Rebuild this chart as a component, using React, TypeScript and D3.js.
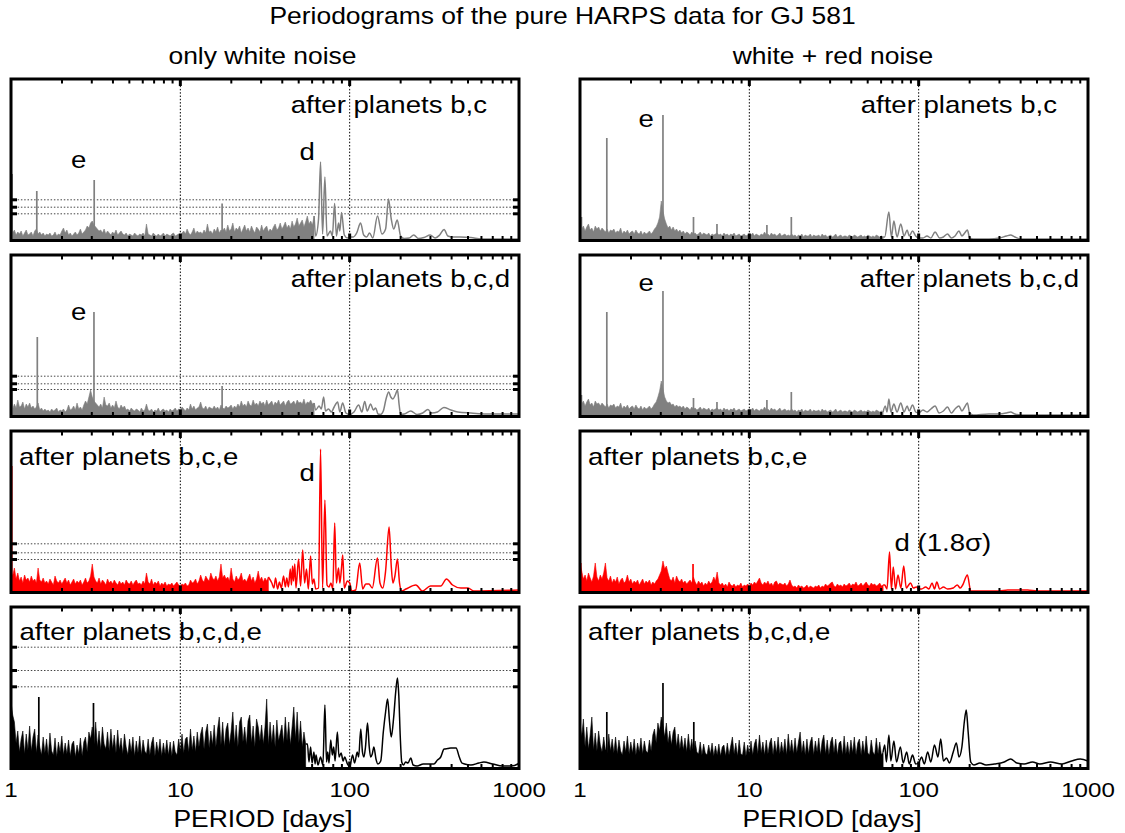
import React from "react";
import * as d3 from "d3";

type Pt = [number, number];

const GRAY = "#808080";
const RED = "#ff0000";
const BLACK = "#000000";
const FONT = "'Liberation Sans', Arial, Helvetica, sans-serif";
const SX = 1.15;

// dense part of every periodogram: one value per 0.01 in log10(period), starting at P = 1 d
const NOISE_STEP = 0.01;

const periodTickValues = [1, 10, 100, 1000];
const periodTickLabels = ["1", "10", "100", "1000"];

// ---------- only white noise ----------
const noiseL1 = [1.2, .6, .9, .4, .7, .5, .8, .3, .6, .9, .4, .5, .7, .3, .8, 1.0, .5, .7, .4, .6,
  .3, .5, .4, .6, .3, .4, .7, .3, .5, .4, .8, 1.1, .6, .9, .4, .6, .3, .5, .7, .4,
  .6, 1.0, .5, .7, .9, 1.3, 1.1, 1.6, 1.8, 1.4, 1.2, 1.0, .8, .9, .6, 1.0, .5, .8, .6, .4,
  .7, .5, .9, .4, .6, .8, .5, .4, .6, .3, .5, .4, .3, .6, .4, .3, .5, .4, .6, .3,
  1.5, .5, .4, .3, .6, .4, .3, .5, .3, .4, .6, .3, .5, .4, .3, .5, .6, .3, .4, .5,
  .3, .6, .8, .5, 1.0, .6, .4, .7, 1.1, .5, .8, .6, .7, .5, .9, .6, 1.5, .7, .8, .5,
  1.0, .7, 1.2, .6, .9, .8, 1.1, .7, 1.4, .8, 1.0, 1.6, .7, 1.1, .9, 1.3, .6, 1.0, 1.4, .8,
  1.1, .7, 1.3, .9, .6, 1.2, 1.0, .7, 1.4, .8, 1.1, 1.3, .7, 1.0, .8, 1.2, 1.5, .9, 1.1, 1.6,
  1.0, 1.3, 1.7, 1.1, 1.4, 1.0, 1.8, 1.2, 1.5, 2.1, 1.3, 1.6, 1.9, 1.2, 1.7, 2.3, 1.5, 1.8, 1.4, 2.3];
const spikesL1: Pt[] = [[1.015, 6.5], [1.42, 4.8], [3.1, 5.9], [17.65, 3.55]];
const tailL1: Pt[] = [[63, 0.3], [65.5, 2.0], [67.3, 7.7], [69.2, 0.5], [71.4, 6.2], [73.5, 0.3], [77, 0.8], [79, 0.3],
  [81.5, 3.55], [83.5, 0.3], [86, 1.6], [87.5, 0.8], [89.5, 2.65], [93, 0.4], [97, 0.1], [100, 0.2], [105, 0.2],
  [110, 0.6], [116, 1.6], [121, 0.4], [126, 0.2], [131, 0.6], [137, 0.1], [146, 2.3], [155, 0.5], [163, 1.0],
  [169.5, 4.0], [176, 2.0], [182, 1.0], [191, 1.9], [200, 0.3], [210, 0.05], [225, 0.1], [239, 0.4], [255, 0.05],
  [275, 0.15], [299, 0.4], [320, 0.1], [340, 0.4], [361, 0.95], [380, 0.3], [405, 0.2], [450, 0.2], [520, 0.15],
  [600, 0], [1000, 0]];
const sigL1 = [3.92, 3.18, 2.52];

const noiseL2 = [1.0, .6, 1.1, .7, 1.5, .8, .9, 1.3, .6, 1.1, .8, 1.2, .7, .9, .6, .8, 1.2, .5, .7, .4,
  .6, .4, .5, .3, .6, .4, .5, .7, .3, .5, .4, .6, .3, .5, 1.0, .5, .6, .9, .5, 1.2,
  .6, .8, .5, 1.0, 1.4, 1.1, 1.8, 2.5, 1.8, 1.4, 1.2, 1.0, .8, 1.1, .7, 1.8, 1.0, .9, 1.2, .7,
  1.0, .7, 1.4, .8, .6, 1.0, .7, .9, .5, .6, .4, .7, .5, .4, .6, .5, .3, .7, .4, .5,
  1.1, .5, .4, .6, .3, .5, .4, .7, .3, .5, .6, .4, .5, .3, .6, .4, .5, .7, .4, .6,
  .5, .8, .6, .4, .7, .5, 1.1, .6, .9, .5, .7, .8, 1.3, .7, .6, .9, .5, .8, .7, .6,
  .9, .6, .8, .5, 1.0, .7, .6, .9, .7, .8, 1.0, .6, .9, .7, 1.1, .8, 1.4, .9, 1.1, .8,
  1.4, 1.0, .9, 1.5, 1.0, 1.2, .9, 1.4, 1.1, 1.3, .9, 1.5, 1.0, 1.2, 1.4, .9, 1.3, 1.1, 1.5, 1.0,
  1.2, 1.4, .9, 1.3, 1.5, 1.1, 1.2, 1.4, 1.0, 1.5, 1.2, 1.3, 1.1, 1.6, 1.0, 1.3, 1.2, 1.5, 1.1, 1.2];
const spikesL2: Pt[] = [[1.015, 2.7], [1.43, 7.8], [3.09, 10.3], [17.65, 2.9]];
const tailL2: Pt[] = [[63, 0.5], [66, 0.9], [68, 0.6], [70.2, 1.8], [72, 0.4], [75, 0.6], [78, 0.3], [81, 0.8],
  [84.9, 1.3], [87.5, 0.3], [90.9, 1.2], [95, 0.2], [100, 0.05], [106, 0.3], [113, 1.0], [118, 0.3], [122.7, 1.35],
  [127, 0.4], [133, 1.1], [138, 0.5], [142.5, 0.7], [147, 0.1], [152, 0.05], [158, 0.4], [164, 1.6], [170, 2.3],
  [175, 1.8], [180, 1.6], [186, 2.0], [191.6, 2.5], [196, 1.0], [200, 0.05], [210, 0.1], [229.6, 0.4], [250, 0.05],
  [270, 0.2], [289.6, 0.55], [305, 0.2], [330, 0.3], [360, 0.75], [396, 0.5], [435, 0.3], [520, 0.2], [700, 0.1],
  [1000, 0.1]];
const sigL2 = [3.88, 3.12, 2.55];

const noiseL3 = [2.0, 1.5, 2.3, 1.2, 1.8, 1.0, 1.4, .8, 1.6, 1.1, 1.3, .9, 1.5, 1.0, 1.2, .8, 2.3, 1.1, .9, 1.3,
  .8, 1.0, .7, 1.2, .9, .6, 1.5, 1.0, .8, 1.1, .7, 1.0, 1.3, .8, 1.1, .6, .9, 1.2, .7, 1.0,
  .8, 1.1, .6, .9, 1.3, .8, 1.0, 1.5, 2.7, 1.4, 1.0, .8, 1.3, .7, 1.1, .9, .6, 1.2, .8, 1.0,
  .7, 1.1, .8, .6, 1.0, .7, .9, .6, 1.1, .8, .7, 1.0, .6, .9, 1.1, .7, .8, .6, 1.0, .7,
  1.8, .9, .7, 1.2, .6, .9, .7, 1.0, .5, .8, .6, .9, .5, .7, .6, .8, .5, .7, .9, .6,
  .5, .7, .6, .8, .5, .6, 1.1, .8, .9, 1.2, .7, 1.0, 1.6, 1.1, .9, 1.5, 1.2, 1.0, 1.8, 1.3,
  1.1, 1.5, 1.0, 1.4, 2.7, 1.3, 1.6, 1.2, 1.4, 1.0, 2.3, 1.2, .9, 1.5, 1.1, 1.3, 1.8, 1.0, 1.2, .9,
  1.3, 1.7, 1.0, 1.4, .8, 1.2, 2.0, 1.1, 1.4, .9, 1.3, 1.0, 1.4];
const spikesL3: Pt[] = [[1.01, 12.5]];
const tailL3: Pt[] = [[34.7, 0.8], [35.7, 0.3], [36.5, 1.3], [37.5, 0.2], [38.5, 0.9], [39.5, 0.3], [40.7, 1.5],
  [41.7, 0.4], [42.5, 1.3], [43.5, 0.4], [44.6, 2.2], [45.3, 0.6], [46, 2.5], [46.6, 1.0], [47.4, 2.7], [48.2, 0.3],
  [49.9, 3.2], [51.3, 0.5], [52.8, 4.1], [54.2, 0.8], [55.6, 2.2], [57, 0.2], [58.8, 3.5], [60.2, 0.7], [61.5, 1.2],
  [63, 0.2], [65.5, 0.3], [67.3, 14.2], [69.2, 0.3], [71.4, 9.1], [73.5, 0.6], [75.5, 0.4], [77.5, 0.8], [79.5, 0.2],
  [81.6, 6.8], [83.5, 0.8], [85.9, 2.3], [87.5, 0.8], [89.5, 2.3], [91, 3.6], [93, 0.3], [96.9, 1.0], [100, 0.8],
  [102.8, 0], [108.5, 0.1], [114.6, 2.8], [119.4, 0.2], [124.4, 0.7], [130, 0.7], [136, 0.3], [145.9, 3.3],
  [151, 0.8], [157, 0.3], [163, 2.0], [170.9, 6.4], [176, 2.5], [180, 0.8], [185, 1.5], [191.5, 3.2], [197, 0.8],
  [203, 0], [215, 0.2], [245.9, 0.6], [269, 0], [300, 0.5], [345, 0.5], [373, 1.2], [405, 0.6], [454, 0.3],
  [500, 0.3], [541, 0], [1000, 0.1]];
const sigL3 = [4.72, 3.82, 3.15];

const noiseL4 = [6.5, 5.2, 4.5, 2.4, 3.6, 1.5, 2.8, 3.6, 1.3, 3.3, 1.7, 4.1, 1.6, 3.0, 3.8, 1.4, 3.2, 2.0, 1.2, 3.0,
  1.4, 2.8, 1.1, 3.4, 1.6, 1.2, 2.9, 1.0, 2.5, 1.5, 3.1, 1.2, 2.4, 1.3, 2.7, 1.1, 2.3, 2.6, 1.0, 2.2,
  1.3, 2.9, 1.1, 2.5, 3.0, 1.5, 3.5, 2.8, 4.0, 2.2, 4.5, 2.0, 3.6, 1.7, 4.0, 2.3, 1.8, 3.5, 1.6, 3.8,
  1.8, 3.2, 1.4, 3.7, 1.7, 2.9, 1.3, 3.3, 2.0, 1.2, 2.8, 1.5, 3.0, 1.1, 2.6, 1.4, 3.1, 1.2, 2.7, 1.6,
  1.3, 2.8, 1.2, 2.4, 3.0, 1.1, 2.5, 1.4, 2.8, 1.1, 2.4, 1.3, 2.7, 1.2, 2.5, 1.1, 2.6, 1.5, 1.2, 2.8,
  1.6, 3.3, 1.4, 2.8, 3.0, 1.5, 3.8, 1.7, 3.1, 1.5, 3.5, 2.0, 3.3, 4.0, 1.8, 3.5, 4.3, 1.9, 3.6, 2.2,
  4.2, 2.0, 3.8, 5.0, 2.2, 4.5, 2.0, 3.8, 4.4, 2.2, 3.6, 5.5, 2.3, 4.2, 2.0, 4.5, 5.0, 2.5, 4.0, 2.2,
  4.6, 5.2, 2.4, 4.1, 2.0, 4.8, 4.0, 2.6, 4.2, 2.3, 4.0, 6.8, 2.2, 4.5, 2.4, 4.2, 2.0, 4.7, 2.6, 3.4,
  4.2, 2.3, 5.0, 2.6, 4.5, 2.2, 4.0, 6.0, 2.8, 5.5, 2.4, 4.6, 2.0, 3.5, 2.3];
const spikesL4: Pt[] = [[1.46, 7.0], [3.07, 6.4]];
const tailL4: Pt[] = [[56.3, 2.3], [57.5, 0.5], [58.8, 2.0], [60, 0.4], [61.5, 1.5], [62.5, 0.3], [63.3, 1.2], [65, 0.2],
  [67.3, 1.0], [69.5, 0.2], [71.4, 6.2], [73, 0.5], [74.2, 1.5], [75.5, 0.4], [77.3, 2.7], [79, 1.2], [80.5, 2.0],
  [82, 0.6], [84.6, 3.5], [86.5, 1.0], [89, 1.4], [91.5, 0.6], [93.4, 1.0], [97, 0.3], [100, 0], [104, 1.2],
  [107, 0.4], [110.8, 1.5], [113, 1.0], [116.3, 3.8], [119, 1.5], [121.3, 1.0], [124, 2.0], [127.5, 4.4],
  [130.5, 2.0], [133, 1.0], [136, 1.3], [139, 2.0], [143, 0.8], [146.7, 0.3], [152.6, 0.6], [158, 3.5], [163, 5.5],
  [167.5, 6.8], [172, 4.5], [176, 3.0], [182, 5.0], [187, 7.5], [191.5, 8.9], [195, 7.2], [199, 3.0], [203, 0.5],
  [208, 0.2], [214, 0.5], [221, 0.4], [229.6, 0.9], [237, 0.2], [250, 0.1], [272, 0.3], [290, 0.3], [314, 0.3],
  [330, 0.7], [345, 1.0], [361, 1.8], [380, 1.85], [396, 1.9], [410, 1.9], [425, 1.9], [444, 1.0], [460, 0.4],
  [477, 0.3], [520, 0.2], [580, 0.4], [620, 0.5], [700, 0.3], [800, 0.1], [900, 0.1], [984, 0.3], [1000, 0.4]];
const sigL4 = [11.98, 9.65, 8.02];

// ---------- white + red noise ----------
const noiseR1 = [1.4, 1.0, 1.3, .8, 1.2, 1.5, .9, 1.1, .7, 1.3, 1.0, 1.2, .8, 1.1, .9, .7, 1.0, .6, .9, .8,
  1.0, .6, .8, .7, 1.1, .5, .8, .6, .9, .5, .7, .8, .5, .9, .6, .5, .8, .4, .7, .5,
  .6, .8, .5, .7, 1.0, 1.2, 1.6, 2.2, 3.8, 2.8, 2.0, 1.5, 1.1, 1.3, .9, 1.2, .8, 1.0, .7, .9,
  .6, .8, .5, .7, .6, .4, .7, .5, .6, .4, .5, .7, .4, .6, .5, .4, .6, .3, .5, .4,
  .5, .6, .4, .5, .3, .6, .4, .5, .3, .5, .4, .6, .3, .4, .5, .3, .4, .5, .3, .4,
  .5, .4, .6, .3, .5, .4, .3, .5, .4, .7, .4, .5, .3, .6, .4, .5, .3, .4, .6, .3,
  .4, .5, .3, .4, .3, .5, .3, .4, .2, .4, .3, .5, .2, .4, .3, .3, .5, .2, .4, .3,
  .3, .4, .2, .5, .3, .4, .2, .3, .4, .2, .3, .5, .2, .3, .4, .2, .3, .3, .2, .4,
  .3, .2, .4, .3, .2, .3, .4, .2, .3, .2, .4, .3, .2, .3, .2, .4, .3, .2, .3, .2];
const spikesR1: Pt[] = [[1.02, 2.2], [1.44, 10.1], [3.09, 12.4], [4.68, 2.2], [6.44, 1.5], [12.7, 1.4], [17.7, 2.2]];
const tailR1: Pt[] = [[63, 0.2], [66.7, 2.7], [69, 0.2], [71.4, 1.8], [74.5, 0.2], [78.4, 1.5], [82, 0.3],
  [85.5, 0.9], [88, 0.3], [92, 0.8], [96, 0.3], [100, 0.1], [106, 0.1], [112, 0.3], [118, 0.1], [125, 0.7],
  [133, 0.1], [140, 0.2], [148, 0.5], [156, 0.1], [164, 0.3], [173, 0.8], [180, 0.3], [187, 0.6], [194, 0.9],
  [200, 0.1], [210, 0], [260, 0], [300, 0.1], [330, 0.3], [349, 0.4], [370, 0.2], [400, 0], [1000, 0]];

const noiseR2 = [1.6, 1.1, 1.4, .9, 1.3, 1.6, 1.0, 1.2, .8, 1.4, 1.1, 1.2, .9, 1.2, 1.0, .8, 1.1, .7, 1.0, .9,
  1.1, .7, .9, .8, 1.2, .6, .9, .7, 1.0, .6, .8, .9, .6, 1.0, .7, .6, .9, .5, .8, .6,
  .7, .9, .6, .8, 1.1, 1.3, 1.8, 2.4, 3.4, 2.6, 1.8, 1.4, 1.2, 1.3, 1.0, 1.1, .8, 1.0, .8, .9,
  .7, .9, .6, .8, .7, .5, .8, .6, .7, .5, .6, .8, .5, .7, .6, .5, .7, .4, .6, .5,
  .6, .7, .5, .6, .4, .7, .5, .6, .4, .6, .5, .7, .4, .5, .6, .4, .5, .6, .4, .5,
  .6, .5, .7, .4, .6, .5, .4, .6, .5, .8, .5, .6, .4, .7, .5, .6, .4, .5, .7, .4,
  .5, .6, .4, .5, .4, .6, .4, .5, .3, .5, .4, .6, .3, .5, .4, .4, .6, .3, .5, .4,
  .4, .5, .3, .6, .4, .5, .3, .4, .5, .3, .4, .6, .3, .4, .5, .3, .4, .4, .3, .5,
  .4, .3, .5, .4, .3, .4, .5, .3, .4, .3, .5, .4, .3, .4, .3, .5, .4, .3, .4, .3];
const spikesR2: Pt[] = [[1.02, 2.0], [1.44, 10.3], [3.09, 12.4], [4.68, 1.7], [6.44, 1.3], [12.7, 1.5], [17.7, 2.3]];
const tailR2: Pt[] = [[63.5, 0.9], [65, 0.3], [66.7, 1.6], [68.5, 0.3], [71.4, 1.1], [74.5, 0.3], [78.4, 1.2],
  [82, 0.3], [85.5, 0.9], [88, 0.4], [92, 1.0], [96, 0.3], [100, 0.2], [106, 0.5], [112, 0.3], [118, 0.6], [125, 0.9],
  [132, 0.2], [140, 0.4], [148, 0.8], [156, 0.2], [164, 0.6], [173, 0.9], [180, 0.4], [187, 0.8], [194, 1.2],
  [200, 0.2], [210, 0], [260, 0.1], [300, 0.1], [330, 0.2], [349, 0.3], [370, 0.1], [400, 0], [1000, 0]];

const noiseR3 = [2.8, 2.0, 1.2, 1.6, 1.0, 1.8, 1.3, .9, 1.5, 2.8, 1.4, 1.0, 1.6, 1.2, 1.8, 2.8, 1.3, 1.0, 1.5, .8,
  1.2, .9, 1.4, .7, 1.1, 1.3, .8, 1.0, 1.6, .9, 1.2, .7, 1.0, .8, 1.1, .6, .9, 1.2, .7, 1.0,
  .8, 1.1, .6, .9, .7, 1.0, 1.2, 1.6, 2.0, 3.0, 2.2, 2.5, 1.8, 1.2, 1.0, 1.4, .8, 1.5, 1.1, .9,
  1.2, .8, 1.0, .7, .9, 1.1, .8, 1.4, .9, .6, 1.0, .7, .9, .5, .8, .6, 1.0, .7, .9, 1.4,
  1.0, 1.9, .8, .6, .8, .5, .7, .4, .9, .6, .5, .7, .4, .6, .5, .8, .4, .6, .5, .7,
  .5, .8, .6, .9, .7, 1.0, 1.3, .8, .6, .9, .7, 1.0, .6, .8, .5, .9, 1.0, .6, .8, .7,
  .6, .8, .5, .7, 1.1, .6, .4, .5, .3, .6, .4, .5, .3, .4, .6, .3, .5, .4, .3, .5,
  .4, .6, .3, .5, .4, .7, .5, .6, .8, .9, .5, .4, .7, .5, .6, .4, .7, .5, .6, .8,
  .5, .7, .6, .9, .5, .6, .8, .5, .7, .9, .6, .5, .8, .6, .7, .5, .6, .8, .5, .6];
const spikesR3: Pt[] = [[1.01, 2.8], [4.65, 2.7]];
const tailR3: Pt[] = [[63, 0.6], [65, 0.2], [67.3, 3.9], [69, 0.2], [70.8, 2.4], [73, 0.2], [75.5, 1.6],
  [78.5, 0.3], [81.6, 2.5], [84.5, 0.3], [86.5, 0.5], [89.5, 0.8], [93, 0.3], [97, 0.4], [100, 0.2], [104, 0.2],
  [110, 0.4], [115, 0.2], [120, 0.8], [124, 0.2], [128, 0.9], [133, 0.2], [140, 0.4], [148, 0.2], [160, 0.3],
  [169, 0.6], [176, 0.3], [182, 0.6], [194, 1.6], [203, 0], [300, 0], [335, 0.1], [440, 0.1], [500, 0], [1000, 0]];

const noiseR4 = [4.5, 3.0, 4.8, 2.0, 4.0, 1.8, 3.2, 5.0, 1.7, 3.4, 1.6, 3.6, 2.2, 1.5, 3.0, 1.8, 1.4, 3.3, 1.6, 2.8,
  1.4, 3.0, 1.3, 2.7, 1.6, 1.2, 2.6, 1.5, 3.1, 1.3, 2.5, 1.4, 2.8, 1.2, 2.4, 1.5, 2.9, 1.3, 2.6, 1.6,
  1.4, 2.7, 1.6, 3.2, 3.8, 2.4, 4.4, 3.6, 5.0, 4.2, 3.0, 4.4, 2.4, 3.6, 2.2, 3.5, 4.0, 2.0, 3.3, 1.8,
  3.1, 1.7, 2.9, 1.5, 3.3, 1.6, 2.8, 1.4, 2.6, 1.5, 1.3, 2.5, 1.2, 2.3, 1.4, 1.2, 2.2, 1.3, 2.4, 1.1,
  2.1, 1.2, 2.3, 1.1, 2.0, 2.2, 1.1, 2.4, 1.2, 2.1, 3.0, 1.3, 2.4, 1.1, 2.7, 1.3, 1.2, 2.5, 1.1, 2.2,
  1.3, 2.6, 1.2, 2.3, 2.8, 1.3, 3.2, 1.4, 2.5, 1.2, 2.7, 1.3, 2.4, 2.9, 1.2, 2.6, 1.4, 3.0, 1.3, 2.5,
  1.4, 2.8, 1.2, 3.3, 1.5, 2.7, 1.3, 2.9, 1.4, 2.5, 3.5, 1.4, 2.6, 1.2, 2.8, 1.3, 2.5, 3.0, 1.2, 2.6,
  1.5, 2.9, 1.2, 2.6, 3.2, 1.3, 2.7, 1.2, 2.5, 3.0, 1.4, 2.8, 1.2, 2.4, 2.6, 1.2, 3.1, 1.3, 2.5, 1.2,
  2.7, 1.4, 3.0, 1.2, 2.4, 2.8, 1.2, 2.6, 1.3, 3.1, 1.4, 1.2, 2.7, 1.5, 1.2, 2.9, 1.3, 2.5, 1.2, 1.5];
const spikesR4: Pt[] = [[1.44, 5.5], [3.09, 8.4], [4.7, 4.5]];
const tailR4: Pt[] = [[63, 2.2], [64.5, 0.5], [66.7, 3.2], [68.5, 0.6], [71.4, 2.6], [74, 0.5], [78, 2.0],
  [81, 0.4], [85, 1.5], [88, 0.3], [92, 1.2], [96, 0.3], [100, 0.4], [104, 1.0], [108, 0.3], [113, 1.5], [118, 0.5],
  [124, 2.2], [130, 1.0], [135, 2.8], [140, 0.6], [146, 0.9], [152, 0.4], [160, 1.5], [167, 2.4], [173, 1.0],
  [180, 2.0], [186, 4.5], [191, 5.7], [196, 3.5], [203, 0.5], [212, 0.2], [230, 0.4], [250, 0.2], [280, 0.3],
  [320, 0.5], [349, 0.8], [380, 0.4], [420, 0.3], [470, 0.5], [520, 0.3], [600, 0.5], [700, 0.3], [800, 0.6],
  [900, 0.8], [1000, 0.6]];

// ---------- layout ----------
const COLS = [{ x0: 11, x1: 519 }, { x0: 580, x1: 1088 }];
const ROW_TOP = [79, 255, 431, 607];
const PANEL_H = 161.5;
const Y_MAX = 16;

type Note = { text: string; x: number; y: number; anchor?: string };
type Spec = {
  col: number; row: number; color: string; noise: number[]; spikes: Pt[]; tail: Pt[]; sig: number[];
  notes: Note[];
};

const panels: Spec[] = [
  { col: 0, row: 0, color: GRAY, noise: noiseL1, spikes: spikesL1, tail: tailL1, sig: sigL1,
    notes: [{ text: "after planets b,c", x: 487, y: 112.5, anchor: "end" }, { text: "e", x: 71, y: 168 }, { text: "d", x: 299.5, y: 160 }] },
  { col: 0, row: 1, color: GRAY, noise: noiseL2, spikes: spikesL2, tail: tailL2, sig: sigL2,
    notes: [{ text: "after planets b,c,d", x: 510, y: 286.5, anchor: "end" }, { text: "e", x: 71, y: 320 }] },
  { col: 0, row: 2, color: RED, noise: noiseL3, spikes: spikesL3, tail: tailL3, sig: sigL3,
    notes: [{ text: "after planets b,c,e", x: 19, y: 465 }, { text: "d", x: 299.5, y: 481 }] },
  { col: 0, row: 3, color: BLACK, noise: noiseL4, spikes: spikesL4, tail: tailL4, sig: sigL4,
    notes: [{ text: "after planets b,c,d,e", x: 19.5, y: 640 }] },
  { col: 1, row: 0, color: GRAY, noise: noiseR1, spikes: spikesR1, tail: tailR1, sig: [],
    notes: [{ text: "after planets b,c", x: 1057, y: 112.5, anchor: "end" }, { text: "e", x: 638.5, y: 126.5 }] },
  { col: 1, row: 1, color: GRAY, noise: noiseR2, spikes: spikesR2, tail: tailR2, sig: [],
    notes: [{ text: "after planets b,c,d", x: 1079, y: 286.5, anchor: "end" }, { text: "e", x: 638.5, y: 291 }] },
  { col: 1, row: 2, color: RED, noise: noiseR3, spikes: spikesR3, tail: tailR3, sig: [],
    notes: [{ text: "after planets b,c,e", x: 588, y: 465 }, { text: "d (1.8\u03c3)", x: 894.5, y: 550.5 }] },
  { col: 1, row: 3, color: BLACK, noise: noiseR4, spikes: spikesR4, tail: tailR4, sig: [],
    notes: [{ text: "after planets b,c,d,e", x: 588, y: 640 }] },
];

function T({ x, y, size, anchor = "start", children }: any) {
  return (
    <text transform={`translate(${x},${y}) scale(${SX},1)`} fontSize={size} textAnchor={anchor}
      fontFamily={FONT} fill="#000">{children}</text>
  );
}

function Panel({ p }: { p: Spec }) {
  const { x0, x1 } = COLS[p.col];
  const top = ROW_TOP[p.row];
  const bottom = top + PANEL_H;
  const base = bottom - 1.5;
  const x = d3.scaleLog().domain([1, 1000]).range([x0, x1]);
  const y = d3.scaleLinear().domain([0, Y_MAX]).range([base, base - 160]);
  const noisePts: Pt[] = p.noise.map((v, i) => [Math.pow(10, i * NOISE_STEP), v]);
  const area = d3.area<Pt>().x((d) => x(d[0])).y0(y(0)).y1((d) => y(d[1]));
  const line = d3.line<Pt>().x((d) => x(d[0])).y((d) => y(d[1])).curve(d3.curveMonotoneX);
  const tailPts: Pt[] = [noisePts[noisePts.length - 1], ...p.tail];
  const ticks = x.ticks();
  const clipId = `clip-${p.col}-${p.row}`;
  const isMajor = (t: number) => t === 10 || t === 100;
  return (
    <g>
      <defs>
        <clipPath id={clipId}>
          <rect x={x0} y={top} width={x1 - x0} height={PANEL_H} />
        </clipPath>
      </defs>
      <g clipPath={`url(#${clipId})`}>
        {p.sig.map((v, i) => (
          <line key={"s" + i} x1={x0} x2={x1} y1={y(v)} y2={y(v)} stroke="#444" strokeWidth={1} strokeDasharray="1.5,1.8" />
        ))}
        {[10, 100].map((v) => (
          <line key={"g" + v} x1={x(v)} x2={x(v)} y1={top} y2={bottom} stroke="#000" strokeWidth={1} strokeDasharray="1.5,1.8" />
        ))}
        <path d={area(noisePts) || ""} fill={p.color} stroke={p.color} strokeWidth={0.6} />
        <path d={line(tailPts) || ""} fill="none" stroke={p.color} strokeWidth={1.5} />
        {p.spikes.map(([pp, v], i) => (
          <line key={"k" + i} x1={x(pp)} x2={x(pp)} y1={y(0)} y2={y(v)} stroke={p.color} strokeWidth={1.7} />
        ))}
      </g>
      {ticks.map((t, i) => {
        const len = isMajor(t) ? 7 : 4.5;
        const w = isMajor(t) ? 3 : 2;
        return (
          <g key={"t" + i}>
            <line x1={x(t)} x2={x(t)} y1={top} y2={top + len} stroke="#000" strokeWidth={w} />
            <line x1={x(t)} x2={x(t)} y1={bottom} y2={bottom - len} stroke="#000" strokeWidth={w} />
          </g>
        );
      })}
      {p.sig.map((v, i) => (
        <g key={"yt" + i}>
          <line x1={x0} x2={x0 + 6} y1={y(v)} y2={y(v)} stroke="#000" strokeWidth={3} />
          <line x1={x1 - 6} x2={x1} y1={y(v)} y2={y(v)} stroke="#000" strokeWidth={3} />
        </g>
      ))}
      <rect x={x0} y={top} width={x1 - x0} height={PANEL_H} fill="none" stroke="#000" strokeWidth={3} />
      {p.notes.map((n, i) => (
        <T key={"n" + i} x={n.x} y={n.y} size={24} anchor={n.anchor || "start"}>{n.text}</T>
      ))}
      {p.row === 3 && periodTickValues.map((t, i) => (
        <T key={"l" + i} x={x(t)} y={797} size={21} anchor="middle">{periodTickLabels[i]}</T>
      ))}
      {p.row === 3 && (
        <T x={(x0 + x1) / 2 - 2} y={827} size={23} anchor="middle">PERIOD [days]</T>
      )}
    </g>
  );
}

export default function App() {
  return (
    <svg width={1125} height={833} style={{ position: "absolute", left: 0, top: 0, background: "#fff" }}>
      <rect x={0} y={0} width={1125} height={833} fill="#fff" />
      <T x={562.5} y={24} size={23} anchor="middle">Periodograms of the pure HARPS data for GJ 581</T>
      <T x={262.5} y={64} size={23} anchor="middle">only white noise</T>
      <T x={833} y={64} size={23} anchor="middle">white + red noise</T>
      {panels.map((p, i) => <Panel key={i} p={p} />)}
    </svg>
  );
}
